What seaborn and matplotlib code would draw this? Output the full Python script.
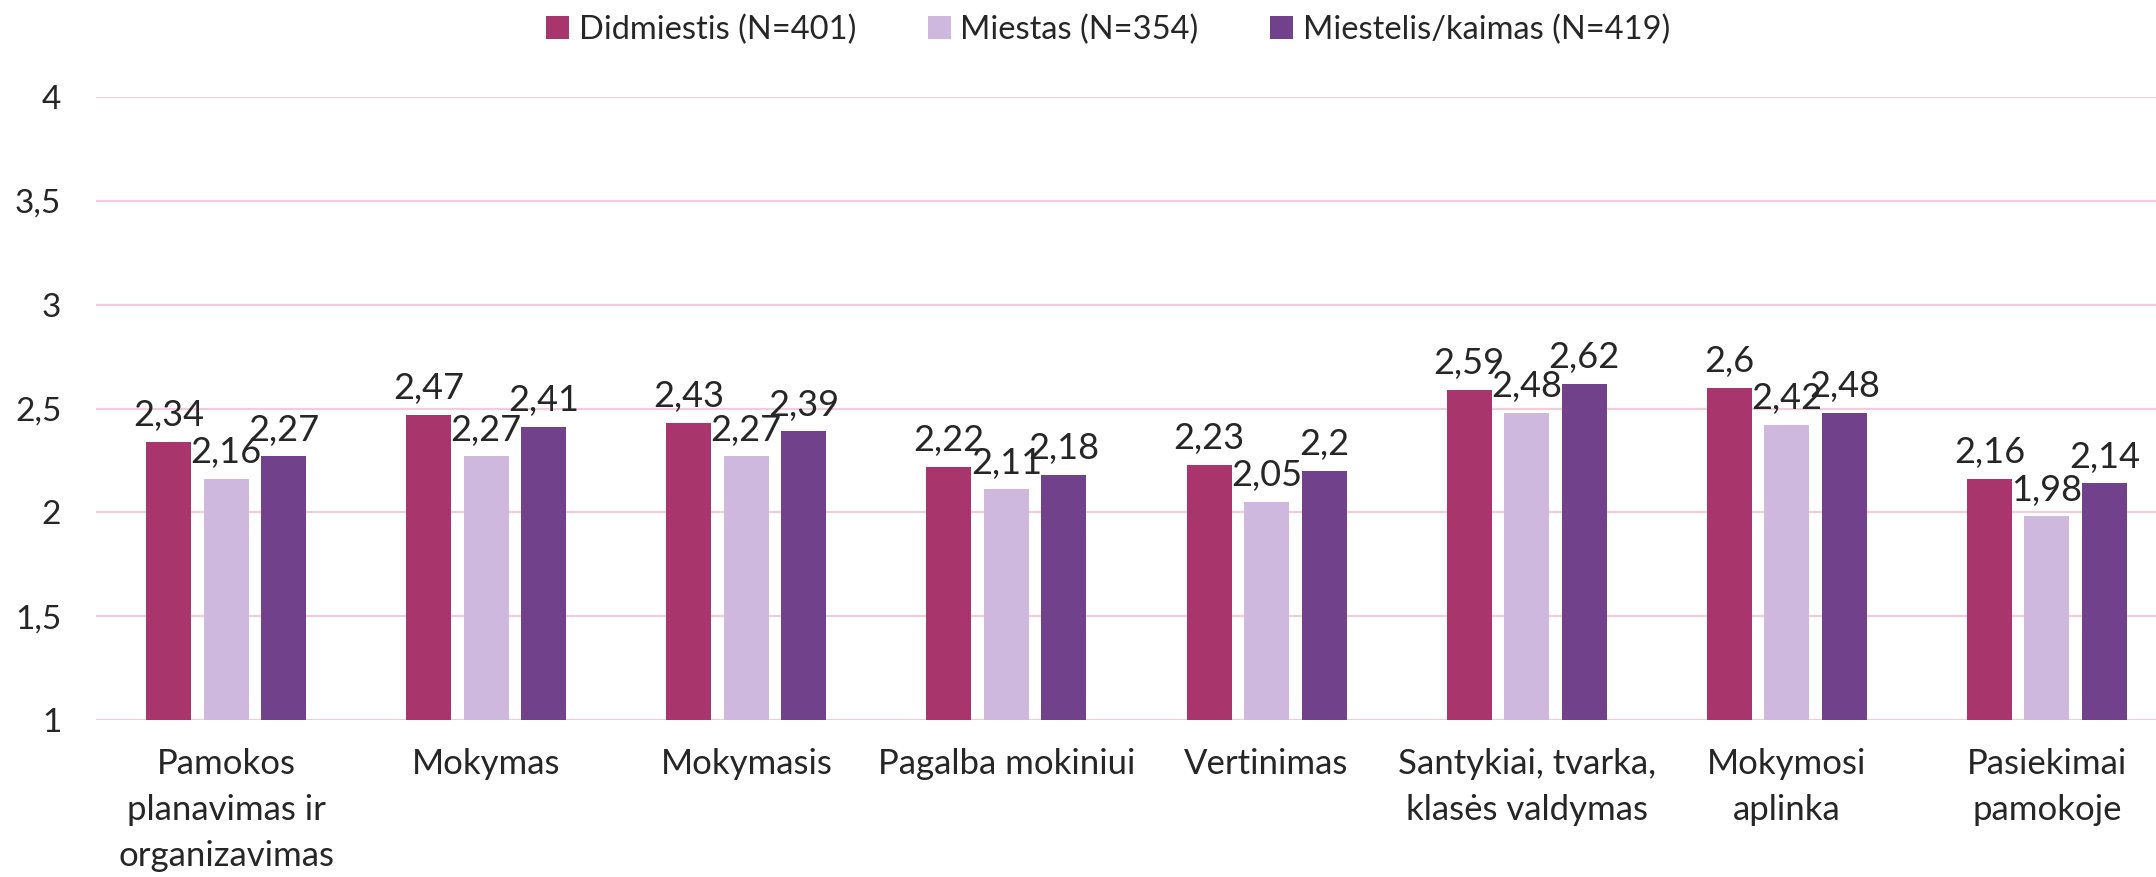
import matplotlib
matplotlib.use("Agg")
import matplotlib.pyplot as plt
import seaborn as sns
import pandas as pd
from matplotlib.patches import Patch

categories = [
    "Pamokos\nplanavimas ir\norganizavimas",
    "Mokymas",
    "Mokymasis",
    "Pagalba mokiniui",
    "Vertinimas",
    "Santykiai, tvarka,\nklasės valdymas",
    "Mokymosi\naplinka",
    "Pasiekimai\npamokoje",
]
series_names = ["Didmiestis (N=401)", "Miestas (N=354)", "Miestelis/kaimas (N=419)"]
didmiestis = [2.34, 2.47, 2.43, 2.22, 2.23, 2.59, 2.60, 2.16]
miestas = [2.16, 2.27, 2.27, 2.11, 2.05, 2.48, 2.42, 1.98]
miestelis = [2.27, 2.41, 2.39, 2.18, 2.20, 2.62, 2.48, 2.14]
y_ticks = [1, 1.5, 2, 2.5, 3, 3.5, 4]
colors = ["#A8356B", "#CFB8DE", "#71418C"]

sns.set_theme(style="white")
plt.rcParams["font.family"] = ["Lato", "DejaVu Sans"]

rows = []
for name, vals in zip(series_names, [didmiestis, miestas, miestelis]):
    for c, v in zip(categories, vals):
        rows.append({"cat": c, "val": v, "group": name})
df = pd.DataFrame(rows)

fig = plt.figure(figsize=(21.56, 8.77), dpi=100)
ax = fig.add_axes([96 / 2156, 1 - 720 / 877, 2081 / 2156, (720 - 97) / 877])

sns.barplot(data=df, x="cat", y="val", hue="group", hue_order=series_names,
            order=categories, palette=colors, width=0.663, gap=0.217,
            linewidth=0, ax=ax, legend=False, saturation=1)

ax.set_ylim(1, 4)
ax.set_xlim(-0.5, len(categories) - 0.5)
ax.set_yticks(y_ticks)
ax.set_yticklabels([("%g" % t).replace(".", ",") for t in y_ticks])
ax.yaxis.grid(True, color="#F0CCDF", linewidth=1.6)
ax.set_axisbelow(True)
for s in ax.spines.values():
    s.set_visible(False)
ax.set_xlabel("")
ax.set_ylabel("")
ax.tick_params(axis="y", length=0, pad=25, labelsize=24)
ax.tick_params(axis="x", length=0, pad=20, labelsize=25)
for lab in ax.get_xticklabels():
    lab.set_linespacing(1.55)

for cont in ax.containers:
    labels = [("%g" % b.get_height()).replace(".", ",") for b in cont]
    ax.bar_label(cont, labels=labels, padding=7, fontsize=26)

handles = [Patch(facecolor=c, edgecolor="none") for c in colors]
fig.legend(handles, series_names, loc="center", bbox_to_anchor=(0.514, 1 - 30 / 877),
           ncol=3, frameon=False, fontsize=23.5, handlelength=0.7, handleheight=0.7,
           handletextpad=0.3, columnspacing=2.2)

fig.savefig("out.png", dpi=100)
